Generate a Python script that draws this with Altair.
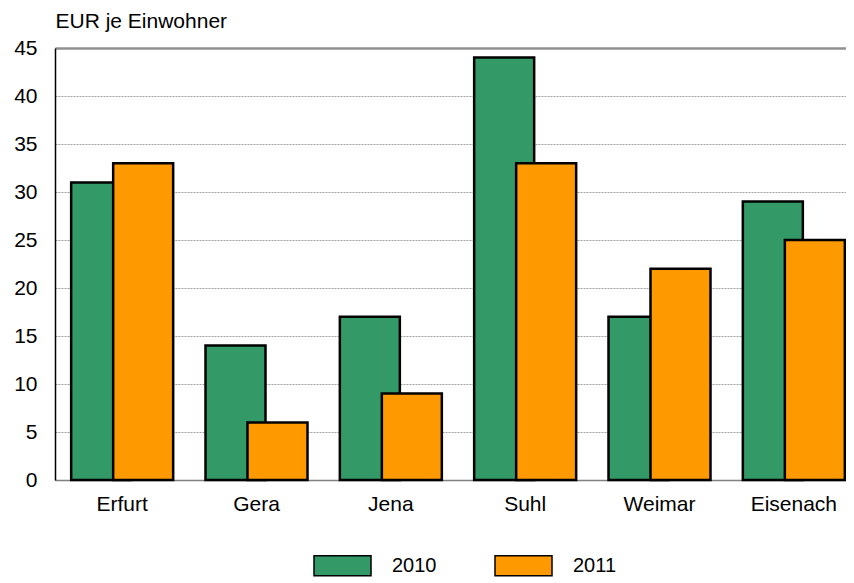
import altair as alt
import pandas as pd

cities = ["Erfurt", "Gera", "Jena", "Suhl", "Weimar", "Eisenach"]
v2010 = [31, 14, 17, 44, 17, 29]
v2011 = [33, 6, 9, 33, 22, 25]
years = ["2010", "2011"]
colors = ["#339966", "#FF9900"]

rows = []
for c, a in zip(cities, v2010):
    rows.append({"Stadt": c, "Jahr": "2010", "Wert": a})
for c, b in zip(cities, v2011):
    rows.append({"Stadt": c, "Jahr": "2011", "Wert": b})
df = pd.DataFrame(rows)

FONT = "Liberation Sans"

x_enc = alt.X(
    "Stadt:N",
    sort=cities,
    scale=alt.Scale(range=[0, 806], paddingInner=0, paddingOuter=0),
    axis=alt.Axis(
        title=None, labelAngle=0, ticks=False, labelPadding=13,
        labelFontSize=21, labelFont=FONT, labelColor="black",
        domainColor="#808080", domainWidth=1.5, grid=False,
    ),
)
y_enc = alt.Y(
    "Wert:Q",
    scale=alt.Scale(domain=[0, 45], nice=False),
    axis=alt.Axis(
        title="EUR je Einwohner", titleAngle=0, titleAlign="left",
        titleBaseline="alphabetic", titleX=0, titleY=-21,
        titleFontSize=21, titleFont=FONT, titleFontWeight="normal", titleColor="black",
        values=list(range(0, 50, 5)), ticks=False, labelPadding=18,
        labelFontSize=21, labelFont=FONT, labelColor="black",
        domainColor="black", domainWidth=1.5,
        grid=True,
        gridColor={"condition": {"test": "datum.value == 45", "value": "#909090"}, "value": "#a0a0a0"},
        gridDash={"condition": {"test": "datum.value == 45", "value": []}, "value": [2, 1]},
        gridWidth={"condition": {"test": "datum.value == 45", "value": 2.5}, "value": 1},
    ),
)
color_enc = alt.Color(
    "Jahr:N",
    scale=alt.Scale(domain=years, range=colors),
    legend=alt.Legend(
        title=None, orient="none", direction="horizontal",
        legendX=258, legendY=488, padding=0,
        symbolType="M-1,-0.35L1,-0.35L1,0.35L-1,0.35Z", symbolSize=3249,
        symbolStrokeColor="black", symbolStrokeWidth=1.5, symbolOpacity=1,
        labelFontSize=20, labelFont=FONT, labelColor="black", labelOffset=20,
        columnPadding=55,
    ),
)

base = alt.Chart(df).encode(x=x_enc, y=y_enc, color=color_enc)

g = base.transform_filter("datum.Jahr == '2010'").mark_bar(
    width=60, xOffset=-21, stroke="black", strokeWidth=2.5, opacity=1
)
o = base.transform_filter("datum.Jahr == '2011'").mark_bar(
    width=60, xOffset=21, stroke="black", strokeWidth=2.5, opacity=1
)

chart = alt.layer(g, o).properties(
    width=791, height=432,
    autosize=alt.AutoSizeParams(type="none"),
    padding={"left": 47, "top": 40, "right": 0, "bottom": 102},
).configure_view(stroke=None)

chart.save("out.html", embed_options={"renderer": "svg", "actions": False})
